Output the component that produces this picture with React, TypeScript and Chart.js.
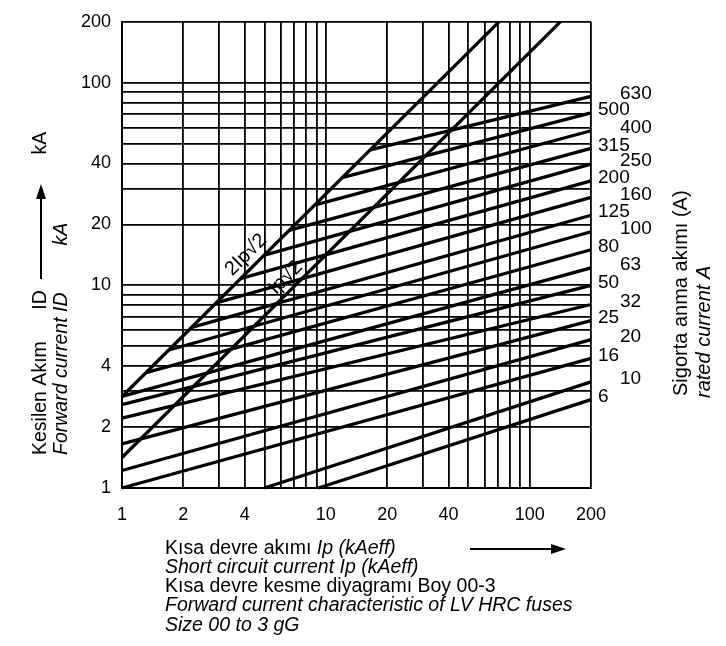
import React, { useEffect, useRef } from 'react';
import { Chart, registerables } from 'chart.js';

Chart.register(...registerables);

// ---- axis data ----
const axisMin = 1;
const axisMax = 200;
const gridValues = [1, 2, 3, 4, 5, 6, 7, 8, 9, 10, 20, 30, 40, 50, 60, 70, 80, 90, 100, 200];
const labeledTicks = [1, 2, 4, 10, 20, 40, 100, 200];

// ---- fuse cut-off lines (rated current A) ----
const fuseRatings = ['6', '10', '16', '20', '25', '32', '50', '63', '80', '100', '125', '160', '200', '250', '315', '400', '500', '630'];
const fuseStartX = [9.2, 5.0, 1, 1, 1, 1, 1, 1, 1.3, 1.7, 2.2, 2.9, 3.8, 5.0, 6.6, 8.8, 12, 16.5];
const fuseStartY = [1, 1, 1.0, 1.22, 1.65, 2.21, 2.58, 2.83, 3.7, 4.8, 6.2, 8.2, 10.8, 14.1, 18.7, 24.9, 34, 46.7];
const fuseEndX = [200, 200, 200, 200, 200, 200, 200, 200, 200, 200, 200, 200, 200, 200, 200, 200, 200, 200];
const fuseEndY = [2.73, 3.34, 4.36, 5.4, 6.7, 8.05, 10.0, 12.2, 15.0, 18.4, 22.2, 27.2, 32.8, 39.7, 47.5, 58, 71, 85.7];

// ---- peak current diagonals ----
const peakX = [1, 141.4];
const peakY = [1.414, 200];
const peak2X = [1, 70.7];
const peak2Y = [2.83, 200];

const FONT = '"Liberation Sans", Arial, Helvetica, sans-serif';

function drawArrow(ctx: CanvasRenderingContext2D, x1: number, y1: number, x2: number, y2: number) {
  const ang = Math.atan2(y2 - y1, x2 - x1);
  const hl = 15, hw = 5;
  const bx = x2 - hl * Math.cos(ang), by = y2 - hl * Math.sin(ang);
  ctx.beginPath();
  ctx.moveTo(x1, y1);
  ctx.lineTo(bx, by);
  ctx.lineWidth = 2;
  ctx.strokeStyle = '#000';
  ctx.stroke();
  ctx.beginPath();
  ctx.moveTo(x2, y2);
  ctx.lineTo(bx - hw * Math.sin(ang), by + hw * Math.cos(ang));
  ctx.lineTo(bx + hw * Math.sin(ang), by - hw * Math.cos(ang));
  ctx.closePath();
  ctx.fillStyle = '#000';
  ctx.fill();
}

function rotText(ctx: CanvasRenderingContext2D, text: string, x: number, y: number, align: CanvasTextAlign, font: string) {
  ctx.save();
  ctx.translate(x, y);
  ctx.rotate(-Math.PI / 2);
  ctx.font = font;
  ctx.textAlign = align;
  ctx.textBaseline = 'middle';
  ctx.fillText(text, 0, 0);
  ctx.restore();
}

const textPlugin = {
  id: 'texts',
  afterDraw(chart: any) {
    const ctx: CanvasRenderingContext2D = chart.ctx;
    const xs = chart.scales.x;
    const ys = chart.scales.y;
    ctx.save();
    ctx.fillStyle = '#000';

    // fuse rating labels
    ctx.font = `19px ${FONT}`;
    ctx.textBaseline = 'middle';
    ctx.textAlign = 'left';
    fuseRatings.forEach((r, i) => {
      const py = ys.getPixelForValue(fuseEndY[i]) - 3;
      const px = i % 2 === 0 ? 598 : 620;
      ctx.fillText(r, px, py);
    });

    // diagonal labels
    const ang = Math.atan2(
      ys.getPixelForValue(peak2Y[1]) - ys.getPixelForValue(peak2Y[0]),
      xs.getPixelForValue(peak2X[1]) - xs.getPixelForValue(peak2X[0])
    );
    const diagLabel = (text: string, xv: number, yv: number, off: number) => {
      const px = xs.getPixelForValue(xv);
      const py = ys.getPixelForValue(yv);
      const nx = Math.sin(ang), ny = -Math.cos(ang);
      ctx.save();
      ctx.translate(px + nx * off, py + ny * off);
      ctx.rotate(ang);
      ctx.font = `20px ${FONT}`;
      ctx.textAlign = 'center';
      ctx.textBaseline = 'middle';
      ctx.fillText(text, 0, 0);
      ctx.restore();
    };
    diagLabel('2Ip√2', 4.5, 4.5 * peak2Y[0], 13);
    diagLabel('Ip√2', 7.0, 7.0 * peakY[0], 12);

    // left titles
    const fN = `19.5px ${FONT}`;
    const fI = `italic 19.5px ${FONT}`;
    rotText(ctx, 'Kesilen Akım', 41, 455, 'left', fN);
    rotText(ctx, 'ID', 41, 300, 'center', fN);
    rotText(ctx, 'kA', 41, 143, 'center', fN);
    drawArrow(ctx, 41, 279, 41, 184);
    rotText(ctx, 'Forward current ID', 62, 455, 'left', fI);
    rotText(ctx, 'kA', 62, 234, 'center', fI);

    // right titles
    rotText(ctx, 'Sigorta anma akımı (A)', 681, 396, 'left', `20px ${FONT}`);
    rotText(ctx, 'rated current A', 704, 398, 'left', `italic 20px ${FONT}`);

    // captions
    ctx.textAlign = 'left';
    ctx.textBaseline = 'middle';
    const fC = `19.5px ${FONT}`;
    const fCI = `italic 19.5px ${FONT}`;
    ctx.font = fC;
    const part1 = 'Kısa devre akımı ';
    ctx.fillText(part1, 165, 549);
    const w1 = ctx.measureText(part1).width;
    ctx.font = fCI;
    ctx.fillText('Ip (kAeff)', 165 + w1, 549);
    ctx.fillText('Short circuit current Ip (kAeff)', 165, 568);
    ctx.font = fC;
    ctx.fillText('Kısa devre kesme diyagramı Boy 00-3', 165, 587);
    ctx.font = fCI;
    ctx.fillText('Forward current characteristic of LV HRC fuses', 165, 606);
    ctx.fillText('Size 00 to 3 gG', 165, 626);
    drawArrow(ctx, 470, 549, 566, 549);

    ctx.restore();
  },
};

export default function App() {
  const ref = useRef<HTMLCanvasElement | null>(null);

  useEffect(() => {
    if (!ref.current) return;
    const lineStyle = {
      showLine: true,
      borderColor: '#000',
      backgroundColor: '#000',
      borderWidth: 3.3,
      pointRadius: 0,
      fill: false,
    };
    const datasets: any[] = fuseRatings.map((r, i) => ({
      label: r + ' A',
      data: [
        { x: fuseStartX[i], y: fuseStartY[i] },
        { x: fuseEndX[i], y: fuseEndY[i] },
      ],
      ...lineStyle,
    }));
    datasets.push({
      label: 'Ip√2',
      data: peakX.map((x, i) => ({ x, y: peakY[i] })),
      ...lineStyle,
    });
    datasets.push({
      label: '2Ip√2',
      data: peak2X.map((x, i) => ({ x, y: peak2Y[i] })),
      ...lineStyle,
    });

    const tickFont = { family: FONT, size: 18 };
    const setTicks = (s: any) => {
      s.ticks = gridValues.map((v) => ({ value: v }));
    };
    const cb = (v: any) => (labeledTicks.includes(Number(v)) ? String(v) : '');

    const chart = new Chart(ref.current, {
      type: 'scatter',
      data: { datasets },
      options: {
        responsive: false,
        animation: false,
        clip: false as any,
        layout: { padding: { left: 0, right: 135, top: 13, bottom: 0 } },
        plugins: { legend: { display: false }, tooltip: { enabled: false } },
        scales: {
          x: {
            type: 'logarithmic',
            min: axisMin,
            max: axisMax,
            afterBuildTicks: setTicks,
            afterFit: (s: any) => {
              s.height = 158;
            },
            ticks: { callback: cb, autoSkip: false, maxRotation: 0, minRotation: 0, color: '#000', font: tickFont, padding: 16 },
            grid: { color: '#000', lineWidth: 1.8, drawTicks: false },
            border: { color: '#000', width: 2 },
          },
          y: {
            type: 'logarithmic',
            min: axisMin,
            max: axisMax,
            afterBuildTicks: setTicks,
            afterFit: (s: any) => {
              s.width = 122;
            },
            ticks: { callback: cb, autoSkip: false, color: '#000', font: tickFont, padding: 11 },
            grid: { color: '#000', lineWidth: 1.8, drawTicks: false },
            border: { color: '#000', width: 2 },
          },
        },
      } as any,
      plugins: [textPlugin],
    });
    return () => chart.destroy();
  }, []);

  return (
    <div style={{ position: 'absolute', left: 0, top: 0, width: 726, height: 646, background: '#fff' }}>
      <canvas ref={ref} width={726} height={646} style={{ display: 'block' }} />
    </div>
  );
}
